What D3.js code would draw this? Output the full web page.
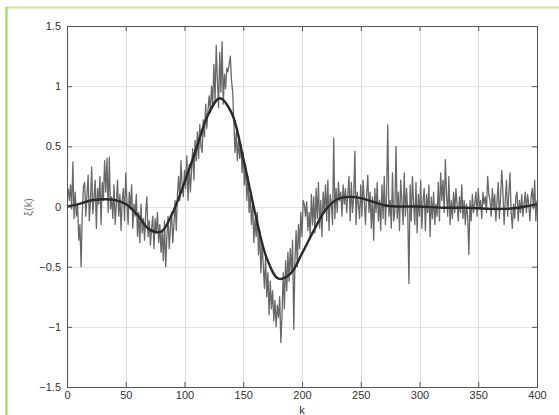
<!DOCTYPE html>
<html>
<head>
<meta charset="utf-8">
<script src="https://cdn.jsdelivr.net/npm/d3@7"></script>
<style>
  body { margin: 0; background: #fff; }
  svg { display: block; font-family: "Liberation Sans", Arial, sans-serif; }
</style>
</head>
<body>
<svg id="chart" width="559" height="415"></svg>
<script>
let width = 559, height = 415;
let margin = {left: 67, right: 22, top: 26, bottom: 28};

// x ticks / y ticks
let xTicks = [0, 50, 100, 150, 200, 250, 300, 350, 400];
let yTicks = [-1.5, -1, -0.5, 0, 0.5, 1, 1.5];

// noisy signal, k = 1..400
let noisy = [
  0.15, 0.05, 0.18, -0.02, 0.37, -0.10, 0.12, -0.08, 0.02, -0.28,
  -0.15, -0.50, -0.05, 0.16, 0.20, -0.08, 0.10, 0.26, -0.12, 0.05,
  0.33, -0.06, 0.08, 0.22, -0.18, 0.15, 0.02, 0.25, -0.15, 0.20,
  0.05, 0.38, 0.12, 0.40, -0.05, 0.41, -0.02, 0.08, -0.10, 0.18,
  -0.15, 0.02, 0.22, -0.08, 0.10, -0.20, 0.06, 0.15, -0.12, 0.28,
  0.05, -0.15, 0.12, -0.02, 0.18, -0.18, 0.02, -0.08, 0.10, -0.25,
  -0.05, -0.30, 0.02, -0.22, -0.10, -0.28, -0.05, 0.08, -0.25, -0.12,
  -0.32, -0.18, -0.08, -0.35, -0.10, -0.22, -0.05, -0.30, -0.15, -0.38,
  -0.20, -0.45, -0.12, -0.50, -0.25, -0.08, -0.35, -0.18, -0.05, -0.30,
  -0.15, 0.05, -0.20, 0.10, 0.25, 0.05, 0.38, 0.18, 0.08, 0.30,
  0.15, 0.42, 0.05, 0.35, 0.12, 0.30, 0.48, 0.22, 0.55, 0.38,
  0.62, 0.40, 0.68, 0.50, 0.45, 0.72, 0.58, 0.85, 0.65, 0.80,
  0.92, 0.78, 1.00, 0.85, 1.18, 0.88, 1.34, 1.05, 0.82, 1.28,
  0.95, 1.37, 0.85, 1.10, 0.98, 1.15, 1.12, 1.18, 1.25, 1.05,
  0.95, 0.70, 0.45, 0.62, 0.38, 0.55, 0.40, 0.52, 0.28, 0.45,
  0.18, 0.35, 0.05, 0.25, -0.05, 0.10, -0.15, 0.02, -0.30, -0.10,
  -0.25, -0.05, -0.40, -0.20, -0.55, -0.30, -0.48, -0.68, -0.42, -0.75,
  -0.55, -0.90, -0.62, -0.85, -0.70, -0.95, -0.78, -1.00, -0.82, -0.92,
  -0.75, -1.13, -0.90, -0.55, -0.85, -0.45, -0.70, -0.38, -0.62, -0.35,
  -0.55, -0.28, -1.02, -0.45, -0.20, -0.50, -0.15, -0.35, -0.05, -0.25,
  0.05, 0.02, -0.08, 0.04, -0.20, -0.05, -0.25, 0.10, -0.15, 0.08,
  -0.22, 0.15, -0.10, 0.20, -0.18, 0.05, -0.25, 0.12, -0.05, 0.18,
  -0.12, 0.22, -0.20, 0.10, 0.02, -0.15, 0.57, -0.10, 0.15, -0.05,
  0.20, 0.05, 0.12, -0.08, 0.18, 0.02, 0.15, -0.05, 0.10, 0.25,
  -0.12, 0.20, -0.05, 0.08, 0.46, -0.15, 0.12, 0.02, -0.10, 0.18,
  -0.08, 0.22, 0.05, -0.15, 0.10, 0.26, -0.05, 0.12, -0.18, 0.08,
  -0.28, 0.15, -0.05, 0.20, -0.12, 0.05, -0.20, 0.18, -0.10, 0.25,
  -0.15, 0.10, 0.68, -0.08, 0.05, -0.18, 0.28, -0.12, -0.05, 0.50,
  -0.10, 0.12, -0.20, 0.22, 0.05, -0.15, 0.28, -0.08, 0.15, -0.05,
  -0.64, 0.18, -0.12, 0.25, 0.02, -0.15, 0.20, -0.22, 0.10, -0.08,
  0.22, -0.18, 0.05, 0.15, -0.20, 0.10, -0.05, 0.18, -0.25, 0.08,
  -0.10, 0.12, -0.15, 0.02, -0.08, 0.20, -0.12, 0.28, 0.05, 0.22,
  -0.05, 0.39, 0.10, -0.08, 0.25, -0.15, 0.05, -0.10, 0.12, -0.05,
  0.15, 0.02, -0.12, 0.08, -0.05, 0.18, -0.10, 0.05, -0.15, 0.02,
  -0.08, -0.40, 0.05, -0.12, 0.10, -0.05, 0.02, 0.12, -0.08, 0.15,
  -0.02, 0.05, -0.10, 0.12, 0.02, 0.08, -0.05, 0.25, 0.10, 0.05,
  -0.08, 0.15, -0.02, 0.10, -0.12, 0.05, 0.20, -0.10, 0.08, 0.30,
  0.12, -0.15, 0.05, 0.22, -0.08, 0.10, 0.28, -0.05, -0.18, 0.02,
  -0.10, 0.08, 0.12, -0.12, 0.05, -0.05, 0.10, -0.08, 0.02, 0.12,
  -0.05, 0.10, 0.02, -0.12, 0.08, 0.15, -0.02, 0.22, -0.12, 0.05
];

// smooth fit, every 10 k
let smoothK = d3.range(0, 401, 10);
let smooth = [
  0.00, 0.02, 0.05, 0.06, 0.055, 0.02, -0.07, -0.19, -0.21, -0.05,
  0.20, 0.48, 0.76, 0.90, 0.78, 0.40, -0.05, -0.43, -0.60, -0.56,
  -0.39, -0.20, -0.03, 0.06, 0.08, 0.07, 0.04, 0.01, 0.00, 0.00,
  0.00, -0.005, -0.01, -0.01, -0.01, -0.015, -0.02, -0.02, -0.015, 0.00,
  0.02
];

let svg = d3.select('#chart');

// frame lines of the page
svg.append('line').attr('x1', 6).attr('y1', 7.5).attr('x2', width).attr('y2', 7.5)
  .attr('stroke', '#cbe79e').attr('stroke-width', 2);
svg.append('line').attr('x1', 6.5).attr('y1', 7).attr('x2', 6.5).attr('y2', height)
  .attr('stroke', '#9fd346').attr('stroke-width', 2);

let x = d3.scaleLinear().domain([0, 400]).range([margin.left, width - margin.right]);
let y = d3.scaleLinear().domain([-1.5, 1.5]).range([height - margin.bottom, margin.top]);

let g = svg.append('g');

// grid
g.selectAll('.vgrid').data(xTicks.slice(1, -1)).enter().append('line')
  .attr('x1', (d) => Math.round(x(d)) + 0.5).attr('x2', (d) => Math.round(x(d)) + 0.5)
  .attr('y1', y(-1.5)).attr('y2', y(1.5))
  .attr('stroke', '#dcdcdc').attr('stroke-width', 1);
g.selectAll('.hgrid').data(yTicks.slice(1, -1)).enter().append('line')
  .attr('x1', x(0)).attr('x2', x(400))
  .attr('y1', (d) => Math.round(y(d)) + 0.5).attr('y2', (d) => Math.round(y(d)) + 0.5)
  .attr('stroke', '#e4e4e4').attr('stroke-width', 1);

// series
let noisyLine = d3.line()
  .x((d, i) => x(i + 1))
  .y((d) => y(d));
g.append('path').datum(noisy)
  .attr('d', noisyLine)
  .attr('fill', 'none')
  .attr('stroke', '#686868')
  .attr('stroke-width', 1.3)
  .attr('stroke-linejoin', 'round');

let smoothLine = d3.line()
  .x((d, i) => x(smoothK[i]))
  .y((d) => y(d))
  .curve(d3.curveCatmullRom);
g.append('path').datum(smooth)
  .attr('d', smoothLine)
  .attr('fill', 'none')
  .attr('stroke', '#2a2a2a')
  .attr('stroke-width', 2.4);

// axes (ticks inward on all four sides)
let axisColor = '#555';
function styleAxis(sel) {
  sel.select('.domain').attr('stroke', axisColor);
  sel.selectAll('.tick line').attr('stroke', axisColor);
  sel.selectAll('.tick text').attr('fill', '#333').attr('font-size', 11);
}

svg.append('g').attr('transform', 'translate(0,' + y(-1.5) + ')')
  .call(d3.axisBottom(x).tickValues(xTicks).tickSizeInner(-5).tickSizeOuter(0).tickPadding(4))
  .call(styleAxis);
svg.append('g').attr('transform', 'translate(0,' + y(1.5) + ')')
  .call(d3.axisTop(x).tickValues(xTicks).tickSizeInner(-5).tickSizeOuter(0).tickFormat(''))
  .call(styleAxis);
svg.append('g').attr('transform', 'translate(' + x(0) + ',0)')
  .call(d3.axisLeft(y).tickValues(yTicks).tickSizeInner(-5).tickSizeOuter(0).tickPadding(6)
    .tickFormat(d3.format('')))
  .call(styleAxis);
svg.append('g').attr('transform', 'translate(' + x(400) + ',0)')
  .call(d3.axisRight(y).tickValues(yTicks).tickSizeInner(-5).tickSizeOuter(0).tickFormat(''))
  .call(styleAxis);

svg.selectAll('.tick text').attr('font-family', '"Liberation Sans", Arial, sans-serif');

// axis labels
svg.append('text')
  .attr('x', x(200)).attr('y', 414)
  .attr('text-anchor', 'middle')
  .attr('font-size', 11).attr('fill', '#333')
  .text('k');
svg.append('text')
  .attr('transform', 'translate(32,207) rotate(-90)')
  .attr('text-anchor', 'middle')
  .attr('font-size', 11).attr('fill', '#777')
  .text('ξ(k)');
</script>
</body>
</html>
